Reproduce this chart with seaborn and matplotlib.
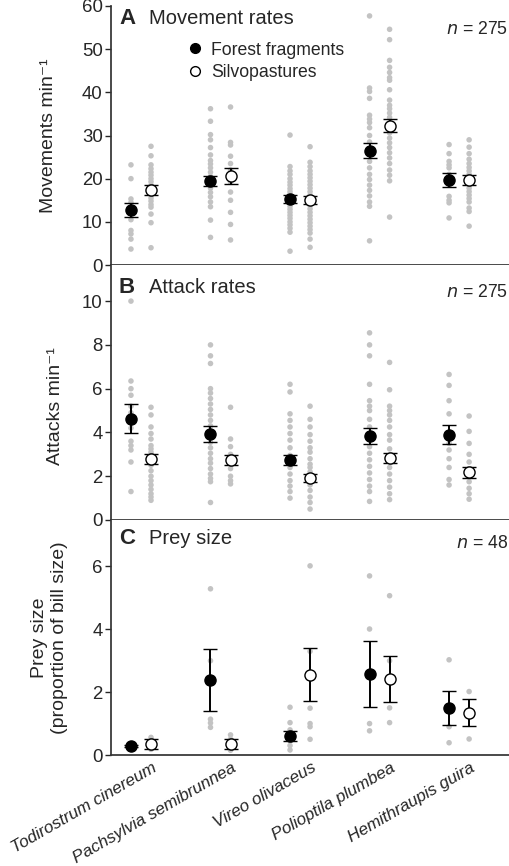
import numpy as np
import pandas as pd
import matplotlib
matplotlib.use('Agg')
import matplotlib.pyplot as plt
import matplotlib.transforms as mtransforms
from matplotlib.lines import Line2D
import seaborn as sns

# ── data ─────────────────────────────────────────────────
species = ['Todirostrum cinereum', 'Pachsylvia semibrunnea', 'Vireo olivaceus',
           'Polioptila plumbea', 'Hemithraupis guira']
habitats = ['Forest fragments', 'Silvopastures']

# A: movements per minute (individual observations)
move_forest = [
    [23.2, 20.0, 15.3, 14.5, 13.0, 10.5, 8.0, 7.2, 6.0, 3.7],
    [36.2, 33.3, 30.2, 29.0, 27.2, 25.5, 24.2, 23.4, 22.5, 21.5, 20.5, 19.7, 18.7,
     17.8, 16.8, 15.8, 14.6, 13.5, 10.4, 6.4],
    [30.1, 22.8, 21.8, 21.0, 20.0, 19.2, 18.5, 17.7, 17.0, 16.4, 15.7, 15.0, 14.3,
     13.6, 12.9, 12.2, 11.5, 10.8, 10.0, 9.3, 8.5, 7.6, 3.2],
    [57.7, 41.0, 40.2, 38.6, 34.7, 33.8, 33.0, 31.8, 30.0, 28.5, 27.0, 25.5, 24.0,
     22.5, 21.0, 19.8, 18.5, 17.3, 16.0, 14.6, 13.6, 5.6],
    [27.9, 25.8, 24.0, 23.2, 22.5, 21.0, 19.8, 18.5, 15.9, 15.0, 14.4, 10.9],
]
move_silvo = [
    [27.5, 25.3, 23.2, 22.3, 21.5, 20.8, 20.0, 19.3, 18.5, 17.8, 17.0, 16.3, 15.5,
     14.8, 14.0, 13.4, 11.8, 9.8, 4.0],
    [36.6, 28.4, 27.8, 25.2, 23.5, 22.0, 19.2, 16.9, 15.0, 12.2, 9.4, 5.8],
    [27.4, 23.8, 22.8, 21.8, 21.0, 20.2, 19.4, 18.6, 17.8, 17.0, 16.2, 15.4, 14.6,
     13.8, 13.0, 12.2, 11.4, 10.6, 9.8, 9.0, 8.2, 7.4, 6.0, 4.1],
    [54.6, 52.2, 47.4, 45.8, 44.6, 43.4, 42.8, 40.6, 38.2, 37.0, 36.2, 35.2, 34.2,
     33.0, 31.8, 30.6, 29.4, 28.3, 27.2, 26.0, 24.8, 23.5, 22.0, 20.8, 19.5, 11.1],
    [29.0, 27.3, 25.8, 24.5, 23.5, 22.6, 21.8, 21.0, 20.2, 19.4, 18.6, 17.8, 17.0,
     16.2, 15.4, 14.6, 13.2, 12.4, 9.0],
]
move_mean_forest = [12.8, 19.5, 15.3, 26.5, 19.7]
move_se_forest = [1.65, 1.2, 0.95, 1.7, 1.7]
move_mean_silvo = [17.3, 20.6, 15.1, 32.3, 19.6]
move_se_silvo = [1.15, 1.9, 1.0, 1.45, 1.15]

# B: attacks per minute
attack_forest = [
    [10.0, 6.35, 6.0, 5.7, 5.2, 4.9, 4.2, 3.6, 3.4, 3.2, 2.65, 1.3],
    [8.0, 7.5, 7.15, 6.0, 5.8, 5.55, 5.3, 5.05, 4.8, 4.55, 4.3, 4.05, 3.8, 3.55,
     3.3, 3.05, 2.8, 2.6, 2.35, 2.1, 1.9, 1.75, 0.8],
    [6.2, 5.85, 4.85, 4.55, 4.25, 3.95, 3.65, 3.3, 2.95, 2.7, 2.4, 2.1, 1.8, 1.55,
     1.3, 1.0],
    [8.55, 8.0, 7.5, 6.2, 5.45, 5.2, 5.0, 4.6, 4.25, 3.95, 3.65, 3.35, 3.05, 2.75,
     2.45, 2.15, 1.85, 1.55, 1.3, 0.85],
    [6.65, 6.15, 5.45, 4.85, 3.9, 3.5, 3.2, 2.8, 2.4, 1.85, 1.6],
]
attack_silvo = [
    [5.15, 4.8, 4.25, 3.95, 3.7, 3.4, 3.25, 3.1, 2.95, 2.7, 2.5, 2.25, 2.0, 1.8,
     1.6, 1.4, 1.2, 1.05, 0.9],
    [5.15, 3.7, 3.35, 3.0, 2.7, 2.35, 2.0, 1.8, 1.65],
    [5.2, 4.6, 4.25, 3.9, 3.6, 3.3, 3.1, 2.8, 2.55, 2.4, 2.2, 1.95, 1.8, 1.6, 1.35,
     1.05, 0.8, 0.5],
    [7.2, 5.95, 5.2, 5.0, 4.8, 4.55, 4.25, 3.9, 3.65, 3.25, 2.75, 2.4, 2.1, 1.8,
     1.5, 1.2, 0.93],
    [4.75, 4.05, 3.5, 3.0, 2.65, 2.1, 1.75, 1.45, 1.2, 0.95],
]
attack_mean_forest = [4.63, 3.93, 2.75, 3.83, 3.9]
attack_se_forest = [0.665, 0.345, 0.215, 0.36, 0.45]
attack_mean_silvo = [2.8, 2.75, 1.92, 2.84, 2.18]
attack_se_silvo = [0.23, 0.23, 0.19, 0.225, 0.245]

# C: prey size (proportion of bill size)
prey_forest = [
    [0.22, 0.27, 0.3, 0.35],
    [5.29, 3.0, 1.14, 1.02, 0.88],
    [1.52, 1.03, 0.8, 0.6, 0.45, 0.3, 0.16],
    [5.7, 4.01, 1.0, 0.77],
    [3.03, 1.49, 0.9, 0.39],
]
prey_silvo = [
    [0.18, 0.3, 0.4, 0.56],
    [0.64, 0.5, 0.35, 0.25, 0.15],
    [6.02, 3.3, 1.49, 1.0, 0.9, 0.5],
    [5.07, 3.0, 1.5, 1.03],
    [2.02, 1.35, 0.51],
]
prey_mean_forest = [0.29, 2.39, 0.6, 2.57, 1.49]
prey_se_forest = [0.04, 0.985, 0.17, 1.045, 0.55]
prey_mean_silvo = [0.35, 0.35, 2.55, 2.42, 1.35]
prey_se_silvo = [0.165, 0.145, 0.845, 0.725, 0.425]

# ── style ────────────────────────────────────────────────
sns.set_theme(style='ticks')
plt.rcParams['font.family'] = ['Liberation Sans', 'DejaVu Sans']
plt.rcParams['axes.edgecolor'] = '#333333'

GRAY = '#c3c3c3'
OFFSET = 0.126

fig = plt.figure(figsize=(5.1, 8.66), dpi=100)
left, width = 111 / 510, 399 / 510
H = 866
ax_a = fig.add_axes([left, 1 - 265 / H, width, 259 / H])
ax_b = fig.add_axes([left, 1 - 520 / H, width, 255 / H])
ax_c = fig.add_axes([left, 1 - 755 / H, width, 235 / H])

# axes, raw points, means/SE, panel letter, title, n, y label, limits, ticks, text heights
panels = [
    (ax_a, move_forest, move_silvo, move_mean_forest, move_se_forest,
     move_mean_silvo, move_se_silvo, 'A', 'Movement rates', '275',
     'Movements min\u207b\u00b9', (0, 60), np.arange(0, 61, 10), 0.953, 0.911),
    (ax_b, attack_forest, attack_silvo, attack_mean_forest, attack_se_forest,
     attack_mean_silvo, attack_se_silvo, 'B', 'Attack rates', '275',
     'Attacks min\u207b\u00b9', (0, 11.65), np.arange(0, 11, 2), 0.912, 0.892),
    (ax_c, prey_forest, prey_silvo, prey_mean_forest, prey_se_forest,
     prey_mean_silvo, prey_se_silvo, 'C', 'Prey size', '48',
     'Prey size\n(proportion of bill size)', (0, 7.48), np.arange(0, 7, 2), 0.923, 0.902),
]

for (ax, pts_f, pts_s, mf, sef, ms, ses, letter, title, n,
     ylab, ylim, yticks, ty, ny) in panels:
    rows = []
    for i, sp in enumerate(species):
        for v in pts_f[i]:
            rows.append({'species': sp, 'habitat': habitats[0], 'value': v, 'x': i - OFFSET})
        for v in pts_s[i]:
            rows.append({'species': sp, 'habitat': habitats[1], 'value': v, 'x': i + OFFSET})
    df = pd.DataFrame(rows)
    sns.scatterplot(data=df, x='x', y='value', ax=ax, color=GRAY, s=16,
                    edgecolor='none', linewidth=0, legend=False, zorder=1)

    pos = np.arange(len(species))
    ax.errorbar(pos - OFFSET, mf, yerr=sef, fmt='o', color='black', ms=8,
                mfc='black', mec='black', mew=1, elinewidth=1.4, capsize=4.7,
                capthick=1.4, zorder=3)
    ax.errorbar(pos + OFFSET, ms, yerr=ses, fmt='o', color='black', ms=8,
                mfc='white', mec='black', mew=1, elinewidth=1.4, capsize=4.7,
                capthick=1.4, zorder=3)

    ax.set_xlim(-0.377, 4.64)
    ax.set_ylim(*ylim)
    ax.set_yticks(yticks)
    ax.tick_params(axis='y', labelsize=13.4, length=4, width=1, pad=2)
    ax.set_xticks(pos)
    ax.tick_params(axis='x', length=0)
    ax.set_xlabel('')
    ax.set_ylabel(ylab, fontsize=14)
    sns.despine(ax=ax)

    ax.text(0.02, ty, letter, transform=ax.transAxes, fontsize=16,
            fontweight='bold', va='center')
    ax.text(0.095, ty, title, transform=ax.transAxes, fontsize=14.5, va='center')
    ax.text(0.995, ny, f'$\\it{{n}}$ = {n}', transform=ax.transAxes,
            fontsize=12.7, ha='right', va='center')

ax_a.set_xticklabels([])
ax_b.set_xticklabels([])
ax_a.yaxis.set_label_coords(-0.135, 0.5)
ax_b.yaxis.set_label_coords(-0.118, 0.447)
ax_c.yaxis.set_label_coords(-0.108, 0.5)

ax_c.set_xticklabels(species, rotation=30, ha='right', va='top',
                     rotation_mode='anchor', fontsize=12.3, fontstyle='italic')
shift = mtransforms.ScaledTranslation(0.11, 0.0, fig.dpi_scale_trans)
for lab in ax_c.get_xticklabels():
    lab.set_transform(lab.get_transform() + shift)

handles = [
    Line2D([], [], marker='o', linestyle='none', ms=7, mfc='black', mec='black'),
    Line2D([], [], marker='o', linestyle='none', ms=7, mfc='white', mec='black'),
]
ax_a.legend(handles, habitats, loc='upper left', bbox_to_anchor=(0.175, 0.89),
            frameon=False, fontsize=12.7, handlelength=0.8, handletextpad=0.5,
            borderaxespad=0, labelspacing=0.3)

plt.savefig('out.png', dpi=100)
